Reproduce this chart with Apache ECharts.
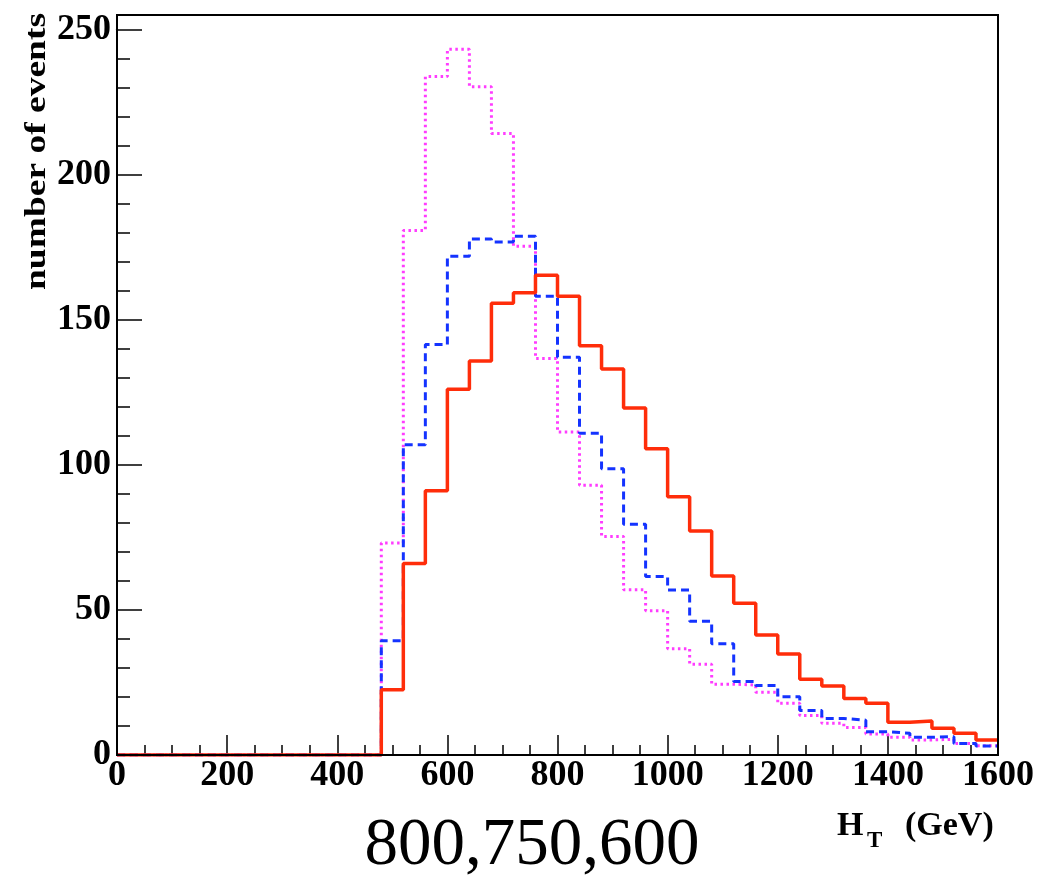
<!DOCTYPE html>
<html>
<head>
<meta charset="utf-8">
<script src="https://cdn.jsdelivr.net/npm/echarts@6/dist/echarts.min.js"></script>
<style>
  html, body { margin: 0; padding: 0; background: #fff; }
  #chart { width: 1042px; height: 875px; }
</style>
</head>
<body>
<div id="chart"></div>
<script>
// 40 GeV bins, left edges 0 .. 1560
var binLeft = [0, 40, 80, 120, 160, 200, 240, 280, 320, 360, 400, 440,
  480, 520, 560, 600, 640, 680, 720, 760, 800, 840, 880, 920, 960, 1000,
  1040, 1080, 1120, 1160, 1200, 1240, 1280, 1320, 1360, 1400, 1440, 1480, 1520, 1560];
var xEnd = 1600;

var redVals = [0, 0, 0, 0, 0, 0, 0, 0, 0, 0, 0, 0,
  22.5, 66, 91, 126, 135.7, 155.6, 159.2, 165.3, 158, 141, 133, 119.5, 105.5, 89,
  77.2, 61.7, 52.3, 41.3, 34.8, 26.1, 23.8, 19.5, 17.8, 11.3, 11.7, 9.2, 7.5, 5.2];
var blueVals = [0, 0, 0, 0, 0, 0, 0, 0, 0, 0, 0, 0,
  39.4, 106.9, 141.4, 171.8, 177.8, 176.7, 178.7, 158, 137, 110.8, 98.6, 79.5, 61.5, 56.8,
  46.1, 38.3, 25.3, 23.9, 20.1, 15.3, 12.6, 12.0, 8.0, 7.5, 6.1, 6.3, 4.0, 3.1];
var magentaVals = [0, 0, 0, 0, 0, 0, 0, 0, 0, 0, 0, 0,
  73, 180.7, 233.7, 243.1, 230.2, 214.1, 175.3, 136.6, 111.3, 92.9, 75.3, 56.9, 49.7, 36.6,
  31.3, 24.4, 24.1, 21.6, 17.8, 13.6, 10.9, 9.5, 7.2, 6.1, 5.2, 5.4, 4.0, 3.2];

var yTitle = "number of events";
var bottomText = "800,750,600";

function histo(vals) {
  var d = [];
  for (var i = 0; i < vals.length; i++) {
    d.push([binLeft[i], vals[i]]);
  }
  d.push([xEnd, vals[vals.length - 1]]);
  return d;
}

var serif = "'Liberation Serif', 'Times New Roman', serif";
var chart = echarts.init(document.getElementById("chart"));

var option = {
  animation: false,
  grid: { left: 117, top: 29.3, width: 881, height: 725.7, show: false },
  xAxis: {
    type: "value",
    min: 0,
    max: 1600,
    interval: 200,
    axisLine: { onZero: false, lineStyle: { color: "#000", width: 2 } },
    axisTick: { inside: true, length: 20, lineStyle: { color: "#000", width: 1.5 } },
    minorTick: { show: true, splitNumber: 4, length: 10, lineStyle: { color: "#000", width: 1.5 } },
    splitLine: { show: false },
    axisLabel: {
      color: "#000", fontFamily: serif, fontWeight: "bold", fontSize: 36, margin: 3,
      formatter: function (v) { return String(v); }
    }
  },
  yAxis: {
    type: "value",
    min: 0,
    max: 250,
    interval: 50,
    axisLine: { show: true, lineStyle: { color: "#000", width: 2 } },
    axisTick: { show: true, inside: true, length: 25, lineStyle: { color: "#000", width: 1.5 } },
    minorTick: { show: true, splitNumber: 5, length: 13, lineStyle: { color: "#000", width: 1.5 } },
    splitLine: { show: false },
    axisLabel: {
      color: "#000", fontFamily: serif, fontWeight: "bold", fontSize: 36, margin: 6,
      formatter: function (v) { return String(v); }
    }
  },
  series: [
    {
      type: "line", step: "end", showSymbol: false, data: histo(magentaVals),
      lineStyle: { color: "#ff3cff", width: 3, type: [2.5, 3.5] }
    },
    {
      type: "line", step: "end", showSymbol: false, data: histo(blueVals),
      lineStyle: { color: "#1433ff", width: 3, type: [8, 5] }
    },
    {
      type: "line", step: "end", showSymbol: false, data: histo(redVals),
      lineStyle: { color: "#ff2d0a", width: 3.5 }
    }
  ],
  graphic: [
    {
      type: "rect",
      shape: { x: 117, y: 15, width: 881, height: 740 },
      style: { fill: null, stroke: "#000", lineWidth: 2 },
      z: 100
    },
    {
      type: "text",
      x: 37, y: 151.5,
      rotation: Math.PI / 2,
      scaleX: 1.25,
      style: {
        text: yTitle, fill: "#000", fontFamily: serif, fontWeight: "bold", fontSize: 30,
        align: "center", verticalAlign: "middle"
      }
    },
    {
      type: "text", x: 837, y: 826,
      style: { text: "H", fill: "#000", fontFamily: serif, fontWeight: "bold", fontSize: 34,
        align: "left", verticalAlign: "middle" }
    },
    {
      type: "text", x: 867, y: 841,
      style: { text: "T", fill: "#000", fontFamily: serif, fontWeight: "bold", fontSize: 23,
        align: "left", verticalAlign: "middle" }
    },
    {
      type: "text", x: 905, y: 826,
      style: { text: "(GeV)", fill: "#000", fontFamily: serif, fontWeight: "bold", fontSize: 34,
        align: "left", verticalAlign: "middle" }
    },
    {
      type: "text", x: 532, y: 846,
      style: { text: bottomText, fill: "#000", fontFamily: serif, fontSize: 67,
        align: "center", verticalAlign: "middle" }
    }
  ]
};

chart.setOption(option);
</script>
</body>
</html>
